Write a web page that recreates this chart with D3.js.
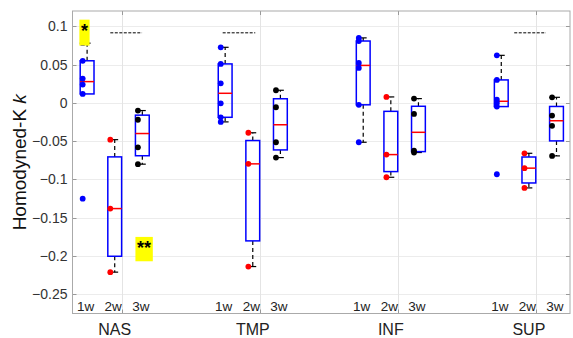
<!DOCTYPE html>
<html>
<head>
<meta charset="utf-8">
<script src="https://cdn.jsdelivr.net/npm/d3@7"></script>
<style>
  body { margin: 0; background: #fff; }
  text { font-family: "Liberation Sans", Arial, sans-serif; }
</style>
</head>
<body>
<script>
  /* DATA */
  var groups = ["NAS", "TMP", "INF", "SUP"];
  var weeks = ["1w", "2w", "3w"];
  var weekColors = ["#0000ff", "#ff0000", "#000000"];
  var yTicks = [0.1, 0.05, 0, -0.05, -0.1, -0.15, -0.2, -0.25];

  var nasValues = [
    [0.078, 0.055, 0.0317, 0.0239, 0.0117, -0.125],
    [-0.048, -0.138, -0.221],
    [-0.010, -0.022, -0.058, -0.080]
  ];
  var tmpValues = [
    [0.0726, 0.0509, 0.0256, -0.0005, -0.0188, -0.0248],
    [-0.039, -0.0796, -0.2137],
    [0.0165, -0.0057, -0.0514, -0.0714]
  ];
  var infValues = [
    [0.0849, 0.0808, 0.0522, 0.0457, -0.0025, -0.0514],
    [0.0078, -0.0675, -0.0971],
    [0.0056, -0.0144, -0.0624, -0.0648]
  ];
  var supValues = [
    [0.0621, 0.030, 0.0042, 0.0000, -0.0048, -0.0932],
    [-0.0658, -0.0852, -0.111],
    [0.0073, -0.0166, -0.030, -0.0692]
  ];
  var allValues = [nasValues, tmpValues, infValues, supValues];

  // significance bars (in box-position units) and star marks
  var sigLevel = 0.0915;
  var sigBars = [
    { from: 1.84, to: 2.99 },
    { from: 5.91, to: 7.09 },
    { from: 16.47, to: 17.62 }
  ];
  var stars = [
    { label: "*", from: 0.72, to: 1.09, lo: 0.0748, hi: 0.1087 },
    { label: "**", from: 2.75, to: 3.38, lo: -0.2068, hi: -0.175 }
  ];

  /* DIMENSIONS */
  var width = 573;
  var height = 338;
  var frame = { left: 72.5, right: 570, top: 11, bottom: 313.5 };

  var svg = d3.select("body")
    .append("svg")
    .attr("width", width)
    .attr("height", height);

  // box i of group g sits at 5*g + i + 1
  let boxPos = function(g, i) {
    return 5 * g + i + 1;
  };

  let xScale = d3.scaleLinear()
    .domain([0.5, 18.5])
    .range([73.3, 570.3]);

  let yScale = d3.scaleLinear()
    .domain([-0.275, 0.12])
    .range([frame.bottom, frame.top]);

  let unit = xScale(2) - xScale(1);

  // MATLAB style percentile
  let prctile = function(sorted, p) {
    let n = sorted.length;
    let pos = p * n + 0.5;
    if (pos <= 1) return sorted[0];
    if (pos >= n) return sorted[n - 1];
    let lo = Math.floor(pos);
    let f = pos - lo;
    return sorted[lo - 1] + f * (sorted[lo] - sorted[lo - 1]);
  };

  let boxStats = function(vals) {
    let s = vals.slice().sort(d3.ascending);
    let q1 = prctile(s, 0.25);
    let med = prctile(s, 0.5);
    let q3 = prctile(s, 0.75);
    let iqr = q3 - q1;
    let inside = s.filter((v) => v >= q1 - 1.5 * iqr && v <= q3 + 1.5 * iqr);
    return {
      q1: q1,
      med: med,
      q3: q3,
      lo: d3.min(inside),
      hi: d3.max(inside)
    };
  };

  /* GRID */
  let grid = svg.append("g").attr("class", "grid");
  grid.selectAll("line.hgrid")
    .data(yTicks)
    .enter()
    .append("line")
    .attr("x1", frame.left)
    .attr("x2", frame.right)
    .attr("y1", (d) => Math.round(yScale(d)) + 0.5)
    .attr("y2", (d) => Math.round(yScale(d)) + 0.5)
    .attr("stroke", "#ececec");

  let vgrid = groups.map((g, i) => boxPos(i, 0) + 1.25);
  grid.selectAll("line.vgrid")
    .data(vgrid)
    .enter()
    .append("line")
    .attr("x1", (d) => Math.round(xScale(d)) + 0.5)
    .attr("x2", (d) => Math.round(xScale(d)) + 0.5)
    .attr("y1", frame.top)
    .attr("y2", frame.bottom)
    .attr("stroke", "#e4e4e4");

  /* AXES */
  let yAxis = svg.append("g")
    .attr("transform", `translate(${frame.left},0)`)
    .call(d3.axisLeft(yScale).tickValues(yTicks).tickSize(0).tickPadding(5)
      .tickFormat((d) => d3.format("")(+d.toFixed(2))));
  yAxis.select(".domain").remove();
  yAxis.selectAll("text")
    .attr("font-size", 14)
    .attr("fill", "#333")
    .style("font-family", "Liberation Sans, Arial, sans-serif");

  // inner ticks on all sides
  let tickG = svg.append("g");
  yTicks.forEach((t) => {
    let y = Math.round(yScale(t)) + 0.5;
    tickG.append("line").attr("x1", frame.left).attr("x2", frame.left + 4)
      .attr("y1", y).attr("y2", y).attr("stroke", "#999");
    tickG.append("line").attr("x1", frame.right - 4).attr("x2", frame.right)
      .attr("y1", y).attr("y2", y).attr("stroke", "#999");
  });
  vgrid.forEach((t) => {
    let x = Math.round(xScale(t)) + 0.5;
    tickG.append("line").attr("x1", x).attr("x2", x)
      .attr("y1", frame.top).attr("y2", frame.top + 4).attr("stroke", "#999");
    tickG.append("line").attr("x1", x).attr("x2", x)
      .attr("y1", frame.bottom - 4).attr("y2", frame.bottom).attr("stroke", "#999");
  });

  svg.append("text")
    .attr("transform", `translate(26,${(frame.top + frame.bottom) / 2}) rotate(-90)`)
    .attr("text-anchor", "middle")
    .attr("font-size", 19)
    .attr("fill", "#111")
    .html('Homodyned-K <tspan font-style="italic">k</tspan>');

  /* BOXES */
  let boxes = [];
  allValues.forEach((gv, g) => {
    gv.forEach((vals, i) => {
      boxes.push({
        group: g,
        week: i,
        pos: boxPos(g, i),
        vals: vals,
        stats: boxStats(vals)
      });
    });
  });

  let boxG = svg.append("g");
  boxes.forEach((b) => {
    let cx = xScale(b.pos);
    let hw = unit * 0.25;
    let cw = unit * 0.125;
    let s = b.stats;

    // whiskers
    [[s.q3, s.hi], [s.q1, s.lo]].forEach((w) => {
      if (Math.abs(w[0] - w[1]) < 1e-9) return;
      boxG.append("line")
        .attr("x1", cx).attr("x2", cx)
        .attr("y1", yScale(w[0])).attr("y2", yScale(w[1]))
        .attr("stroke", "#000")
        .attr("stroke-width", 1.2)
        .attr("stroke-dasharray", "4,3");
      boxG.append("line")
        .attr("x1", cx - cw).attr("x2", cx + cw)
        .attr("y1", yScale(w[1])).attr("y2", yScale(w[1]))
        .attr("stroke", "#000")
        .attr("stroke-width", 1.2);
    });

    boxG.append("rect")
      .attr("x", cx - hw)
      .attr("y", yScale(s.q3))
      .attr("width", 2 * hw)
      .attr("height", yScale(s.q1) - yScale(s.q3))
      .attr("fill", "none")
      .attr("stroke", "#0000ff")
      .attr("stroke-width", 1.5);

    boxG.append("line")
      .attr("x1", cx - hw).attr("x2", cx + hw)
      .attr("y1", yScale(s.med)).attr("y2", yScale(s.med))
      .attr("stroke", "#ff0000")
      .attr("stroke-width", 1.5);
  });

  // data points, a little left of the box centre
  let pts = [];
  boxes.forEach((b) => {
    b.vals.forEach((v) => pts.push({ pos: b.pos, v: v, fill: weekColors[b.week] }));
  });
  svg.append("g").selectAll("circle")
    .data(pts)
    .enter()
    .append("circle")
    .attr("cx", (d) => xScale(d.pos) - unit * 0.16)
    .attr("cy", (d) => yScale(d.v))
    .attr("r", 2.9)
    .attr("fill", (d) => d.fill);

  /* SIGNIFICANCE */
  sigBars.forEach((s) => {
    svg.append("line")
      .attr("x1", xScale(s.from))
      .attr("x2", xScale(s.to))
      .attr("y1", yScale(sigLevel))
      .attr("y2", yScale(sigLevel))
      .attr("stroke", "#000")
      .attr("stroke-width", 1)
      .attr("stroke-dasharray", "3,1.5");
  });

  stars.forEach((s) => {
    svg.append("rect")
      .attr("x", xScale(s.from))
      .attr("y", yScale(s.hi))
      .attr("width", xScale(s.to) - xScale(s.from))
      .attr("height", yScale(s.lo) - yScale(s.hi))
      .attr("fill", "#ffff00");
    svg.append("text")
      .attr("x", xScale((s.from + s.to) / 2))
      .attr("y", yScale(s.hi) + 17)
      .attr("text-anchor", "middle")
      .attr("font-size", 18)
      .attr("font-weight", "bold")
      .attr("fill", "#000")
      .text(s.label);
  });

  /* CATEGORY LABELS */
  groups.forEach((name, g) => {
    weeks.forEach((w, i) => {
      svg.append("text")
        .attr("x", xScale(boxPos(g, i)) - 1.5)
        .attr("y", frame.bottom - 2.5)
        .attr("text-anchor", "middle")
        .attr("font-size", 13.5)
        .attr("fill", "#222")
        .text(w);
    });
    svg.append("text")
      .attr("x", xScale(boxPos(g, 1)))
      .attr("y", 335)
      .attr("text-anchor", "middle")
      .attr("font-size", 16)
      .attr("fill", "#222")
      .text(name);
  });

  // axes box
  svg.append("rect")
    .attr("x", frame.left)
    .attr("y", frame.top)
    .attr("width", frame.right - frame.left)
    .attr("height", frame.bottom - frame.top)
    .attr("fill", "none")
    .attr("stroke", "#aaa")
    .attr("stroke-width", 1);
</script>
</body>
</html>
